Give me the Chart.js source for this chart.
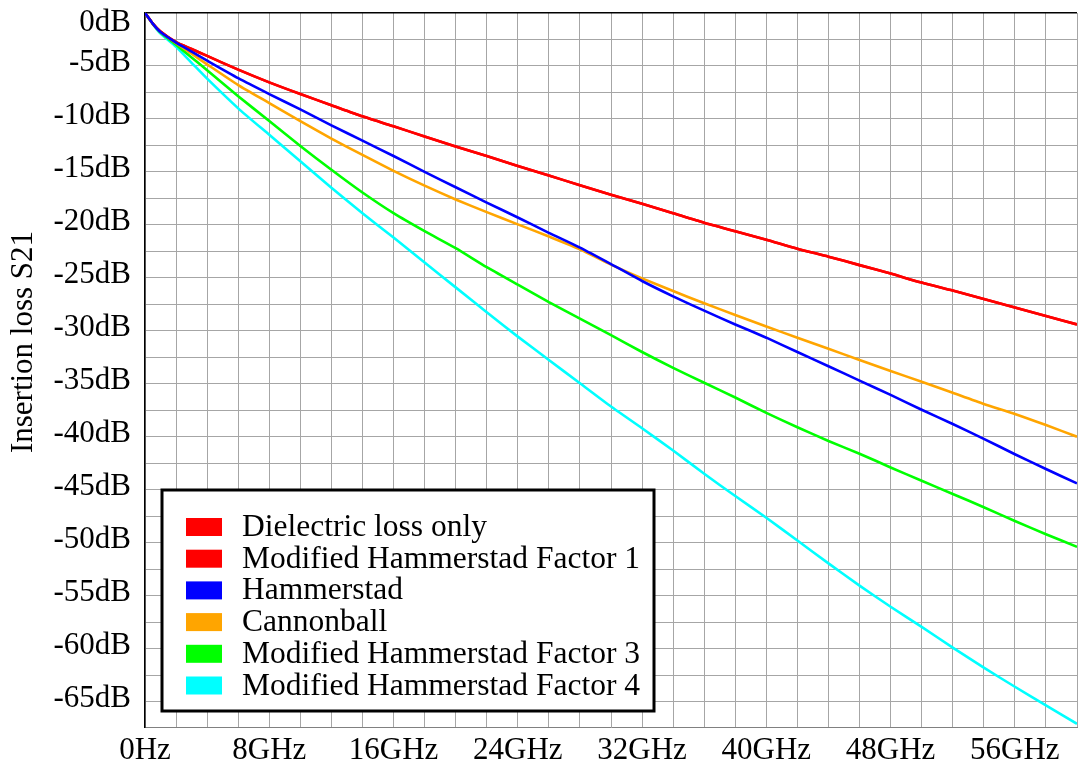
<!DOCTYPE html>
<html lang="en">
<head>
    <meta charset="UTF-8">
    <title>Insertion loss S21</title>
    <script src="https://cdn.jsdelivr.net/npm/chart.js@4.4.1/dist/chart.umd.min.js"></script>
    <style>
        body { margin: 0; background: #fff; }
        #wrap { width: 1078px; height: 764px; position: relative; }
    </style>
</head>
<body>
  <div id="wrap"><canvas id="chart"></canvas></div>
<script>
    // values (GHz / dB)
    const freqGHz = [0, 0.5, 1, 2, 3, 4, 6, 8, 10, 12, 14, 16, 18, 20, 22, 24, 26, 28, 30,
                     32, 34, 36, 38, 40, 42, 44, 46, 48, 50, 52, 54, 56, 58, 60]
    const dielectricOnly = [0, -1.0, -1.75, -2.75, -3.4, -4.05, -5.35, -6.55, -7.65, -8.7, -9.75, -10.7, -11.65, -12.6,
                     -13.5, -14.45, -15.35, -16.25, -17.15, -18.0, -18.9, -19.8, -20.6, -21.4, -22.25, -23.0,
                     -23.8, -24.6, -25.45, -26.2, -27.0, -27.8, -28.6, -29.4]
    const modHammerstad1 = [0, -1.0, -1.75, -2.75, -3.4, -4.05, -5.35, -6.55, -7.65, -8.7, -9.75, -10.7, -11.65, -12.6,
                     -13.5, -14.45, -15.35, -16.25, -17.15, -18.0, -18.9, -19.8, -20.6, -21.4, -22.25, -23.0,
                     -23.8, -24.6, -25.45, -26.2, -27.0, -27.8, -28.6, -29.4]
    const hammerstad = [0, -1.0, -1.8, -2.8, -3.65, -4.5, -6.15, -7.65, -9.1, -10.6, -12.05, -13.5, -15.0, -16.45,
                     -17.9, -19.3, -20.75, -22.15, -23.7, -25.3, -26.75, -28.1, -29.4, -30.65, -32.0, -33.35,
                     -34.7, -36.05, -37.45, -38.8, -40.2, -41.65, -43.05, -44.4]
    const cannonball = [0, -1.0, -1.8, -2.85, -3.85, -4.85, -6.8, -8.5, -10.2, -11.85, -13.4, -14.9, -16.3, -17.6,
                     -18.8, -19.95, -21.1, -22.3, -23.75, -25.05, -26.25, -27.4, -28.5, -29.6, -30.65, -31.7,
                     -32.75, -33.8, -34.8, -35.85, -36.9, -37.85, -38.9, -40.0]
    const modHammerstad3 = [0, -1.0, -1.85, -3.0, -4.2, -5.4, -7.85, -10.2, -12.55, -14.8, -16.95, -18.9, -20.6, -22.2,
                     -24.0, -25.65, -27.3, -28.85, -30.4, -32.0, -33.5, -34.9, -36.3, -37.75, -39.1, -40.4,
                     -41.6, -42.9, -44.15, -45.4, -46.65, -47.95, -49.2, -50.4]
    const modHammerstad4 = [0, -1.05, -1.95, -3.2, -4.7, -6.2, -9.0, -11.5, -14.0, -16.5, -18.9, -21.2, -23.55, -25.9,
                     -28.25, -30.55, -32.75, -34.95, -37.15, -39.2, -41.3, -43.5, -45.6, -47.65, -49.8, -51.95,
                     -54.05, -56.05, -57.95, -59.9, -61.8, -63.6, -65.35, -67.1]

    const seriesNames = ['Dielectric loss only', 'Modified Hammerstad Factor 1', 'Hammerstad',
                         'Cannonball', 'Modified Hammerstad Factor 3', 'Modified Hammerstad Factor 4']
    const seriesColors = ['#ff0000', '#ff0000', '#0000ff', '#ffa500', '#00ff00', '#00ffff']
    const seriesValues = [dielectricOnly, modHammerstad1, hammerstad, cannonball, modHammerstad3, modHammerstad4]
    const drawOrder = [2, 1, 0, 3, 4, 5]

    const xTickText = ['0Hz', '8GHz', '16GHz', '24GHz', '32GHz', '40GHz', '48GHz', '56GHz']
    const yTickText = ['0dB', '-5dB', '-10dB', '-15dB', '-20dB', '-25dB', '-30dB', '-35dB',
                       '-40dB', '-45dB', '-50dB', '-55dB', '-60dB', '-65dB']
    const yTitle = 'Insertion loss S21'

    const serif = "'Liberation Serif', 'Times New Roman', serif"
    Chart.defaults.font.family = serif
    Chart.defaults.color = '#000'

    // legend box and y title drawn by hand, plus nudge of the top "0dB" label
    const extras = {
        id: 'extras',
        beforeDraw(chart) {
            const items = chart.scales.y.getLabelItems()
            items.forEach(it => {
                if (it.label === '0dB') it.options.translation[1] = chart.chartArea.top + 10
            })
        },
        afterDraw(chart) {
            const ctx = chart.ctx
            ctx.save()
            ctx.fillStyle = '#000'
            ctx.font = '31px ' + serif
            ctx.translate(24, 342)
            ctx.rotate(-Math.PI / 2)
            ctx.textAlign = 'center'
            ctx.textBaseline = 'middle'
            ctx.fillText(yTitle, 0, 0)
            ctx.restore()

            ctx.save()
            ctx.fillStyle = '#fff'
            ctx.fillRect(162, 490, 492, 221)
            ctx.lineWidth = 3
            ctx.strokeStyle = '#000'
            ctx.strokeRect(162, 490, 492, 221)
            ctx.font = '31.5px ' + serif
            ctx.textBaseline = 'alphabetic'
            ctx.textAlign = 'left'
            seriesNames.forEach((name, i) => {
                const cy = 527 + i * 31.7
                ctx.fillStyle = seriesColors[i]
                ctx.fillRect(186, cy - 9, 36, 18)
                ctx.fillStyle = '#000'
                ctx.fillText(name, 242, cy + 9)
            })
            ctx.restore()
        }
    }

    const ctx = document.getElementById('chart').getContext('2d')
    const myChart = new Chart(ctx, {
        type: 'line',
        data: {
            datasets: seriesNames.map((name, i) => ({
                label: name,
                data: freqGHz.map((f, k) => ({ x: f, y: seriesValues[i][k] })),
                borderColor: seriesColors[i],
                backgroundColor: seriesColors[i],
                borderWidth: 2.6,
                pointRadius: 0,
                tension: 0.2,
                fill: false,
                order: drawOrder[i]
            }))
        },
        options: {
            responsive: true,
            maintainAspectRatio: false,
            animation: false,
            layout: { padding: { top: 13, right: 1, left: 0, bottom: 0 } },
            plugins: { legend: { display: false }, tooltip: { enabled: false } },
            scales: {
                x: {
                    type: 'linear',
                    min: 0,
                    max: 60,
                    ticks: {
                        stepSize: 2,
                        autoSkip: false,
                        maxRotation: 0,
                        padding: 5,
                        font: { size: 31 },
                        callback: v => (v % 8 === 0 && v < 60) ? xTickText[v / 8] : ''
                    },
                    grid: { color: '#a6a6a6', lineWidth: 1, drawTicks: false },
                    border: { color: '#808080', width: 1 },
                    afterFit: s => { s.height = 37; s.paddingLeft = 0; s.paddingRight = 0 }
                },
                y: {
                    type: 'linear',
                    min: -67.4,
                    max: 0,
                    ticks: {
                        stepSize: 2.5,
                        autoSkip: false,
                        includeBounds: false,
                        padding: 14,
                        labelOffset: -3,
                        font: { size: 31 },
                        callback: v => (v % 5 === 0) ? yTickText[Math.round(-v / 5)] : ''
                    },
                    grid: {
                        color: c => c.tick && c.tick.value === 0 ? '#000' : '#a6a6a6',
                        lineWidth: c => c.tick && c.tick.value === 0 ? 1.5 : 1,
                        drawTicks: false
                    },
                    border: { color: '#000', width: 1.5 },
                    afterFit: s => { s.width = 145; s.paddingTop = 0; s.paddingBottom = 0 }
                }
            }
        },
        plugins: [extras]
    })
</script>
</body>
</html>
